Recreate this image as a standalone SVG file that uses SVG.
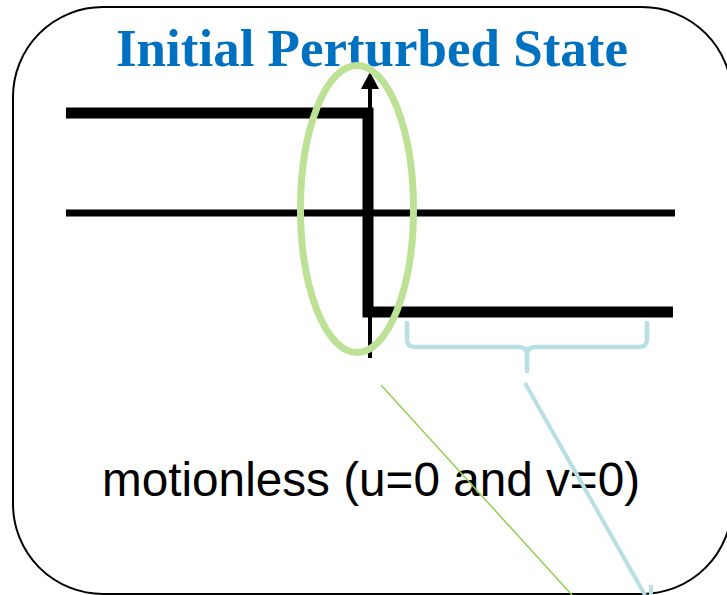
<svg xmlns="http://www.w3.org/2000/svg" width="727" height="595" viewBox="0 0 727 595">
  <style>
    .frame { fill: #ffffff; stroke: #000000; stroke-width: 2; }
    .title { font-family: "Liberation Serif", "Times New Roman", serif; font-weight: bold; font-size: 53px; fill: #0070C0; }
    .label { font-family: "Liberation Sans", Arial, sans-serif; font-size: 47.7px; fill: #000000; }
    .thick { fill: none; stroke: #000000; stroke-width: 11; stroke-linejoin: miter; stroke-linecap: butt; }
    .mid { fill: none; stroke: #000000; stroke-width: 7; }
    .axis { fill: none; stroke: #000000; stroke-width: 4; }
    .ellipse { fill: none; stroke: #BDE295; stroke-width: 7; }
    .brace { fill: none; stroke: #B8DFE3; stroke-width: 4.5; stroke-linecap: round; stroke-linejoin: round; }
    .green-link { stroke: #92D050; stroke-width: 1.5; fill: none; }
    .blue-link { stroke: #B8DFE3; stroke-width: 4; fill: none; }
  </style>
  <g id="panel">
    <rect class="frame" x="13" y="7" width="719" height="587" rx="90" ry="90"/>
  </g>
  <g id="title">
    <text class="title" x="372" y="66" text-anchor="middle" textLength="512" lengthAdjust="spacingAndGlyphs">Initial Perturbed State</text>
  </g>
  <g id="profile">
    <line class="mid" x1="66" y1="213" x2="675" y2="213"/>
    <path class="thick" d="M66 113 H368 V312 H673"/>
  </g>
  <g id="axis">
    <line class="axis" x1="370" y1="86" x2="370" y2="358"/>
    <polygon points="370,72 361,89 379,89" fill="#000000"/>
  </g>
  <g id="caption">
    <text class="label" x="102" y="496">motionless (u=0 and v=0)</text>
  </g>
  <g id="highlight">
    <ellipse class="ellipse" cx="357" cy="209" rx="56.5" ry="143.5"/>
  </g>
  <g id="brace">
    <path class="brace" d="M407 323 V339 Q407 347 415 347 H519 Q527 347 527 355 V371"/>
    <path class="brace" d="M647 323 V339 Q647 347 639 347 H535 Q527 347 527 355"/>
  </g>
  <g id="connectors">
    <line class="green-link" x1="381" y1="385" x2="572" y2="595"/>
    <line class="blue-link" x1="525" y1="383" x2="645" y2="595"/>
    <line class="blue-link" x1="651" y1="585" x2="651" y2="595"/>
  </g>
</svg>
